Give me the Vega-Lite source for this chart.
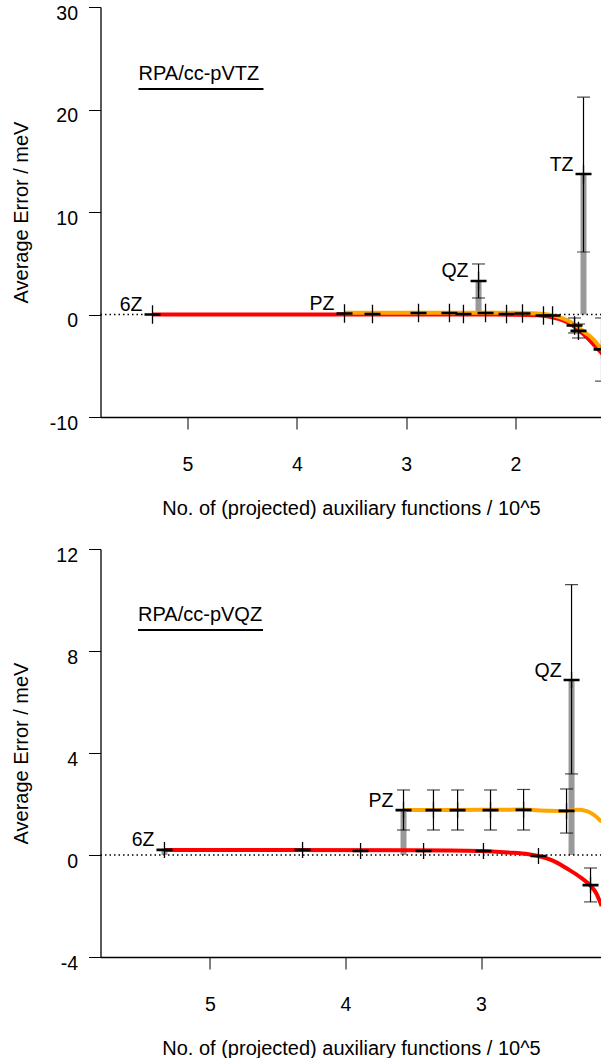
{
  "$schema": "https://vega.github.io/schema/vega-lite/v6.json",
  "padding": {"left": 11.5, "top": 3, "right": 0, "bottom": 0},
  "spacing": 27,
  "config": {
    "font": "Liberation Sans",
    "view": {"stroke": null},
    "axis": {
      "grid": false,
      "domainColor": "black", "domainWidth": 1.3,
      "tickColor": "black", "tickWidth": 1, "tickSize": 12,
      "labelColor": "black", "titleColor": "black",
      "labelFont": "Liberation Sans", "titleFont": "Liberation Sans",
      "labelFontSize": 19.5, "titleFontSize": 20, "titleFontWeight": "normal",
      "labelFlush": false, "labelOverlap": false, "labelBound": false,
      "labelExpr": "'' + datum.value"
    },
    "axisY": {"labelPadding": 11, "labelOffset": 6, "minExtent": 50, "maxExtent": 50, "titlePadding": 19},
    "axisX": {"labelPadding": 26.5, "titlePadding": 24}
  },
  "datasets": {
    "zero": [{"y": 0}],
    "t_red": [
      {"x": 5.32, "y": 0}, {"x": 4.5, "y": 0}, {"x": 3.5, "y": 0}, {"x": 2.5, "y": 0},
      {"x": 2.0, "y": -0.02}, {"x": 1.8, "y": -0.08}, {"x": 1.7, "y": -0.2}, {"x": 1.6, "y": -0.45},
      {"x": 1.5, "y": -0.9}, {"x": 1.43, "y": -1.45}, {"x": 1.35, "y": -2.2}, {"x": 1.28, "y": -3.0}, {"x": 1.2, "y": -3.9}
    ],
    "t_orange": [
      {"x": 3.564, "y": 0.18}, {"x": 3.0, "y": 0.18}, {"x": 2.5, "y": 0.18}, {"x": 2.0, "y": 0.16},
      {"x": 1.8, "y": 0.1}, {"x": 1.7, "y": 0.0}, {"x": 1.6, "y": -0.25}, {"x": 1.5, "y": -0.7},
      {"x": 1.43, "y": -1.2}, {"x": 1.36, "y": -1.8}, {"x": 1.31, "y": -2.2}, {"x": 1.25, "y": -2.9}, {"x": 1.2, "y": -3.6}
    ],
    "t_bars": [
      {"x": 3.564, "y": 0.1}, {"x": 2.338, "y": 3.27}, {"x": 1.378, "y": 13.7}
    ],
    "t_err": [
      {"x": 2.338, "lo": 1.61, "hi": 4.93},
      {"x": 1.378, "lo": 6.1, "hi": 21.2},
      {"x": 1.46, "lo": -1.8, "hi": -0.34},
      {"x": 1.424, "lo": -2.29, "hi": -0.93},
      {"x": 1.213, "lo": -6.5, "hi": -0.34}
    ],
    "t_pts": [
      {"x": 5.32, "y": 0}, {"x": 3.564, "y": 0.1}, {"x": 3.308, "y": 0.05}, {"x": 2.887, "y": 0.15},
      {"x": 2.604, "y": 0.15}, {"x": 2.476, "y": 0.05}, {"x": 2.338, "y": 3.27}, {"x": 2.274, "y": 0.15},
      {"x": 2.082, "y": 0.05}, {"x": 1.936, "y": 0.1}, {"x": 1.744, "y": -0.1}, {"x": 1.661, "y": -0.1},
      {"x": 1.46, "y": -1.07}, {"x": 1.424, "y": -1.6}, {"x": 1.378, "y": 13.7}, {"x": 1.213, "y": -3.4}
    ],
    "t_lab": [
      {"x": 5.32, "y": 0, "label": "6Z"}, {"x": 3.564, "y": 0.1, "label": "PZ"},
      {"x": 2.338, "y": 3.27, "label": "QZ"}, {"x": 1.378, "y": 13.7, "label": "TZ"}
    ],
    "t_title": [{"x": 5.448, "y": 22.88, "label": "RPA/cc-pVTZ"}],
    "t_ul": [{"x": 5.448, "x2": 4.305, "y": 22.0}],
    "b_red": [
      {"x": 5.336, "y": 0.2}, {"x": 4.5, "y": 0.2}, {"x": 3.5, "y": 0.19}, {"x": 3.0, "y": 0.16},
      {"x": 2.8, "y": 0.1}, {"x": 2.65, "y": 0.03}, {"x": 2.576, "y": -0.04}, {"x": 2.47, "y": -0.22},
      {"x": 2.36, "y": -0.55}, {"x": 2.26, "y": -0.9}, {"x": 2.192, "y": -1.2},
      {"x": 2.15, "y": -1.5}, {"x": 2.11, "y": -2.0}
    ],
    "b_orange": [
      {"x": 3.572, "y": 1.76}, {"x": 3.3, "y": 1.76}, {"x": 3.0, "y": 1.77}, {"x": 2.7, "y": 1.78},
      {"x": 2.5, "y": 1.74}, {"x": 2.37, "y": 1.73}, {"x": 2.29, "y": 1.77}, {"x": 2.22, "y": 1.72},
      {"x": 2.17, "y": 1.58}, {"x": 2.11, "y": 1.3}
    ],
    "b_bars": [
      {"x": 5.336, "y": 0.2}, {"x": 3.572, "y": 1.76}, {"x": 2.332, "y": 6.86}
    ],
    "b_err": [
      {"x": 3.572, "lo": 0.98, "hi": 2.55}, {"x": 3.351, "lo": 0.98, "hi": 2.55},
      {"x": 3.173, "lo": 0.98, "hi": 2.55}, {"x": 2.93, "lo": 0.98, "hi": 2.55},
      {"x": 2.686, "lo": 0.98, "hi": 2.57}, {"x": 2.369, "lo": 0.86, "hi": 2.59},
      {"x": 2.332, "lo": 3.18, "hi": 10.6}, {"x": 2.192, "lo": -1.84, "hi": -0.51}
    ],
    "b_pts": [
      {"x": 5.336, "y": 0.2}, {"x": 4.317, "y": 0.2}, {"x": 3.889, "y": 0.16}, {"x": 3.424, "y": 0.16},
      {"x": 2.982, "y": 0.16}, {"x": 2.576, "y": -0.04}, {"x": 2.192, "y": -1.18},
      {"x": 3.572, "y": 1.76}, {"x": 3.351, "y": 1.76}, {"x": 3.173, "y": 1.76}, {"x": 2.93, "y": 1.76},
      {"x": 2.686, "y": 1.77}, {"x": 2.369, "y": 1.73}, {"x": 2.332, "y": 6.86}
    ],
    "b_lab": [
      {"x": 5.336, "y": 0.2, "label": "6Z"}, {"x": 3.572, "y": 1.76, "label": "PZ"},
      {"x": 2.332, "y": 6.86, "label": "QZ"}
    ],
    "b_title": [{"x": 5.531, "y": 9.18, "label": "RPA/cc-pVQZ"}],
    "b_ul": [{"x": 5.531, "x2": 4.609, "y": 8.82}]
  },
  "vconcat": [
    {
      "width": 501,
      "height": 410,
      "layer": [
        {
          "data": {"name": "t_bars"},
          "mark": {"type": "rule", "color": "#999999", "strokeWidth": 6, "strokeCap": "butt", "clip": true},
          "encoding": {
            "x": {"field": "x", "type": "quantitative", "scale": {"domain": [5.7957, 1.2134], "nice": false, "zero": false},
                  "axis": {"values": [5, 4, 3, 2], "title": "No. of (projected) auxiliary functions / 10^5"}},
            "y": {"field": "y", "type": "quantitative", "scale": {"domain": [-10, 30], "nice": false, "zero": false},
                  "axis": {"values": [-10, 0, 10, 20, 30], "title": "Average Error / meV"}},
            "y2": {"datum": 0}
          }
        },
        {
          "data": {"name": "zero"},
          "mark": {"type": "rule", "color": "black", "strokeDash": [1.5, 3], "strokeWidth": 1.3},
          "encoding": {"y": {"field": "y", "type": "quantitative"}}
        },
        {
          "data": {"name": "t_red"},
          "mark": {"type": "line", "color": "#ff0000", "strokeWidth": 4, "interpolate": "monotone", "clip": true},
          "encoding": {"x": {"field": "x", "type": "quantitative"}, "y": {"field": "y", "type": "quantitative"}}
        },
        {
          "data": {"name": "t_orange"},
          "mark": {"type": "line", "color": "#ffa500", "strokeWidth": 4, "interpolate": "monotone", "clip": true},
          "encoding": {"x": {"field": "x", "type": "quantitative"}, "y": {"field": "y", "type": "quantitative"}}
        },
        {
          "data": {"name": "t_err"},
          "mark": {"type": "rule", "color": "black", "strokeWidth": 1.2, "clip": true},
          "encoding": {"x": {"field": "x", "type": "quantitative"}, "y": {"field": "lo", "type": "quantitative"}, "y2": {"field": "hi"}}
        },
        {
          "data": {"name": "t_err"},
          "mark": {"type": "tick", "orient": "horizontal", "color": "black", "size": 13, "thickness": 1.2, "clip": true},
          "encoding": {"x": {"field": "x", "type": "quantitative"}, "y": {"field": "lo", "type": "quantitative"}}
        },
        {
          "data": {"name": "t_err"},
          "mark": {"type": "tick", "orient": "horizontal", "color": "black", "size": 13, "thickness": 1.2, "clip": true},
          "encoding": {"x": {"field": "x", "type": "quantitative"}, "y": {"field": "hi", "type": "quantitative"}}
        },
        {
          "data": {"name": "t_pts"},
          "mark": {"type": "point", "shape": "M-1,-0.08H1M-1,0.08H1M0,-1.15V1.15", "filled": false, "color": "black", "strokeWidth": 1.3, "size": 256, "opacity": 1, "clip": true},
          "encoding": {"x": {"field": "x", "type": "quantitative"}, "y": {"field": "y", "type": "quantitative"}}
        },
        {
          "data": {"name": "t_lab"},
          "mark": {"type": "text", "align": "right", "baseline": "alphabetic", "dx": -10, "dy": -3.5, "fontSize": 19.5, "color": "black"},
          "encoding": {"x": {"field": "x", "type": "quantitative"}, "y": {"field": "y", "type": "quantitative"}, "text": {"field": "label"}}
        },
        {
          "data": {"name": "t_title"},
          "mark": {"type": "text", "align": "left", "baseline": "alphabetic", "fontSize": 20, "color": "black"},
          "encoding": {"x": {"field": "x", "type": "quantitative"}, "y": {"field": "y", "type": "quantitative"}, "text": {"field": "label"}}
        },
        {
          "data": {"name": "t_ul"},
          "mark": {"type": "rule", "color": "black", "strokeWidth": 2},
          "encoding": {"x": {"field": "x", "type": "quantitative"}, "x2": {"field": "x2"}, "y": {"field": "y", "type": "quantitative"}}
        }
      ]
    },
    {
      "width": 501,
      "height": 408,
      "layer": [
        {
          "data": {"name": "b_bars"},
          "mark": {"type": "rule", "color": "#999999", "strokeWidth": 6, "strokeCap": "butt", "clip": true},
          "encoding": {
            "x": {"field": "x", "type": "quantitative", "scale": {"domain": [5.808, 2.111], "nice": false, "zero": false},
                  "axis": {"values": [5, 4, 3], "title": "No. of (projected) auxiliary functions / 10^5"}},
            "y": {"field": "y", "type": "quantitative", "scale": {"domain": [-4, 12], "nice": false, "zero": false},
                  "axis": {"values": [-4, 0, 4, 8, 12], "title": "Average Error / meV"}},
            "y2": {"datum": 0}
          }
        },
        {
          "data": {"name": "zero"},
          "mark": {"type": "rule", "color": "black", "strokeDash": [1.5, 3], "strokeWidth": 1.3},
          "encoding": {"y": {"field": "y", "type": "quantitative"}}
        },
        {
          "data": {"name": "b_red"},
          "mark": {"type": "line", "color": "#ff0000", "strokeWidth": 4, "interpolate": "monotone", "clip": true},
          "encoding": {"x": {"field": "x", "type": "quantitative"}, "y": {"field": "y", "type": "quantitative"}}
        },
        {
          "data": {"name": "b_orange"},
          "mark": {"type": "line", "color": "#ffa500", "strokeWidth": 4, "interpolate": "monotone", "clip": true},
          "encoding": {"x": {"field": "x", "type": "quantitative"}, "y": {"field": "y", "type": "quantitative"}}
        },
        {
          "data": {"name": "b_err"},
          "mark": {"type": "rule", "color": "black", "strokeWidth": 1.2, "clip": true},
          "encoding": {"x": {"field": "x", "type": "quantitative"}, "y": {"field": "lo", "type": "quantitative"}, "y2": {"field": "hi"}}
        },
        {
          "data": {"name": "b_err"},
          "mark": {"type": "tick", "orient": "horizontal", "color": "black", "size": 13, "thickness": 1.2, "clip": true},
          "encoding": {"x": {"field": "x", "type": "quantitative"}, "y": {"field": "lo", "type": "quantitative"}}
        },
        {
          "data": {"name": "b_err"},
          "mark": {"type": "tick", "orient": "horizontal", "color": "black", "size": 13, "thickness": 1.2, "clip": true},
          "encoding": {"x": {"field": "x", "type": "quantitative"}, "y": {"field": "hi", "type": "quantitative"}}
        },
        {
          "data": {"name": "b_pts"},
          "mark": {"type": "point", "shape": "M-1,-0.08H1M-1,0.08H1M0,-1V1", "filled": false, "color": "black", "strokeWidth": 1.3, "size": 256, "opacity": 1, "clip": true},
          "encoding": {"x": {"field": "x", "type": "quantitative"}, "y": {"field": "y", "type": "quantitative"}}
        },
        {
          "data": {"name": "b_lab"},
          "mark": {"type": "text", "align": "right", "baseline": "alphabetic", "dx": -10, "dy": -3.5, "fontSize": 19.5, "color": "black"},
          "encoding": {"x": {"field": "x", "type": "quantitative"}, "y": {"field": "y", "type": "quantitative"}, "text": {"field": "label"}}
        },
        {
          "data": {"name": "b_title"},
          "mark": {"type": "text", "align": "left", "baseline": "alphabetic", "fontSize": 20, "color": "black"},
          "encoding": {"x": {"field": "x", "type": "quantitative"}, "y": {"field": "y", "type": "quantitative"}, "text": {"field": "label"}}
        },
        {
          "data": {"name": "b_ul"},
          "mark": {"type": "rule", "color": "black", "strokeWidth": 2},
          "encoding": {"x": {"field": "x", "type": "quantitative"}, "x2": {"field": "x2"}, "y": {"field": "y", "type": "quantitative"}}
        }
      ]
    }
  ]
}
